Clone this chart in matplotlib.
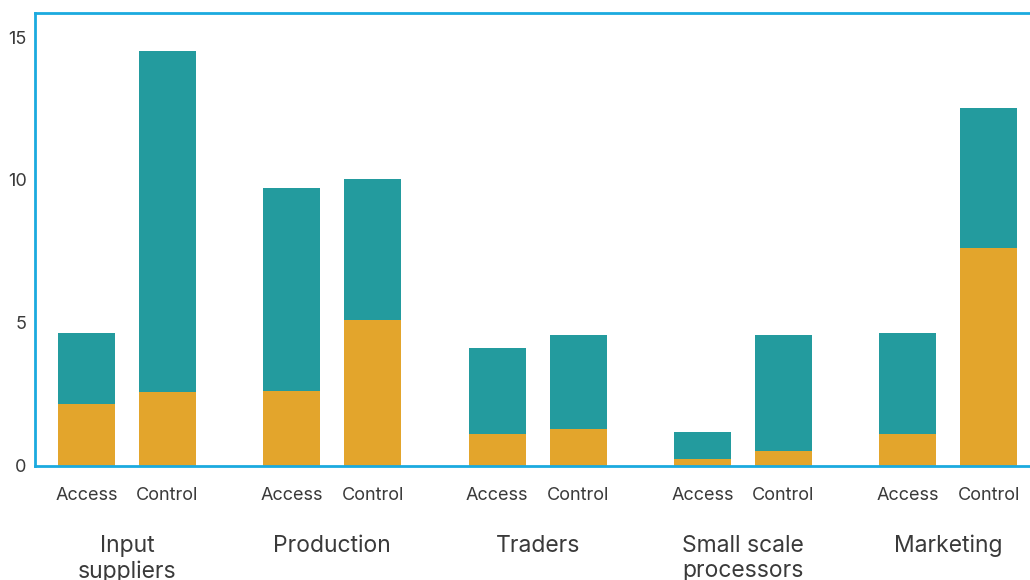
import numpy as np
import matplotlib
matplotlib.use("Agg")
import matplotlib.pyplot as plt

plt.rcParams['font.family'] = ['Inter', 'DejaVu Sans']

groups = ['Input\nsuppliers', 'Production', 'Traders', 'Small scale\nprocessors', 'Marketing']
subgroups = ['Access', 'Control']

# lower (orange) and upper (teal) segments, per group: [Access, Control]
orange_vals = np.array([[2.16, 2.58],
                        [2.61, 5.09],
                        [1.11, 1.28],
                        [0.23, 0.51],
                        [1.11, 7.61]])
total_vals = np.array([[4.64, 14.50],
                       [9.71, 10.02],
                       [4.12, 4.57],
                       [1.18, 4.57],
                       [4.64, 12.51]])
teal_vals = total_vals - orange_vals

yticks = [0, 5, 10, 15]

ORANGE = '#E3A52C'
TEAL = '#239B9E'
LINE = '#1BAADF'
TEXT = '#3a3a3a'

fig = plt.figure(figsize=(10.3, 5.8), dpi=100)
ax = fig.add_axes([0.034, 0.197, 0.966, 0.781])

offset = 0.197
width = 0.277
gx = np.arange(len(groups)) * 0.998
for j, sub in enumerate(subgroups):
    x = gx + (j * 2 - 1) * offset
    ax.bar(x, orange_vals[:, j], width, color=ORANGE, zorder=1)
    ax.bar(x, teal_vals[:, j], width, bottom=orange_vals[:, j], color=TEAL, zorder=1)

ax.set_xlim(-0.447, 4.389)
ax.set_ylim(0, 15.85)
ax.set_yticks(yticks)
ax.tick_params(axis='y', length=0, pad=6, labelsize=13, labelcolor=TEXT)
ax.set_xticks([])

for side in ['left', 'top', 'bottom']:
    ax.spines[side].set_color(LINE)
    ax.spines[side].set_linewidth(2)
    ax.spines[side].set_zorder(3)
ax.spines['right'].set_visible(False)

# two-level category labels under the axis
for i, g in enumerate(groups):
    for j, sub in enumerate(subgroups):
        ax.text(gx[i] + (j * 2 - 1) * offset, -1.04, sub, ha='center', va='center',
                fontsize=13, color=TEXT)
    ax.text(gx[i], -2.42, g, ha='center', va='top', fontsize=16.5, color=TEXT,
            linespacing=1.2, clip_on=False)

fig.savefig('out.png', dpi=100)
